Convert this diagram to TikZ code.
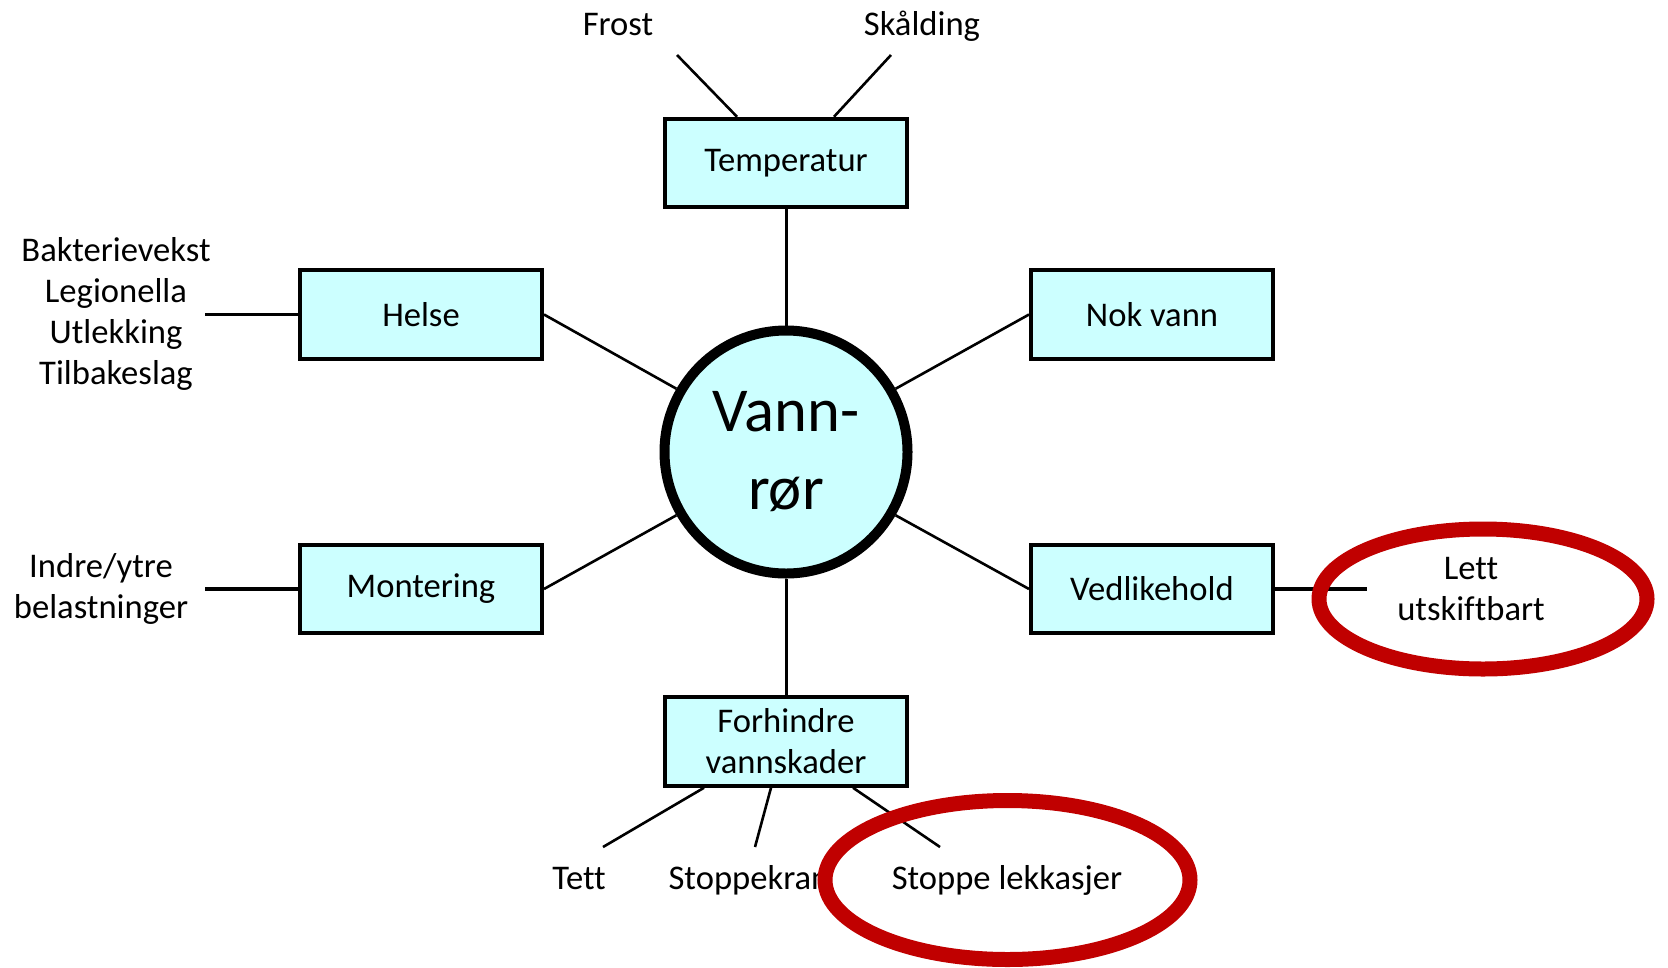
\documentclass[tikz,border=0pt]{standalone}
\usepackage{fontspec}
\setmainfont[Ligatures=NoCommon]{Carlito}
\usetikzlibrary{calc}
\definecolor{boxfill}{HTML}{CCFFFF}
\definecolor{ringred}{HTML}{C00000}
\begin{document}
\begin{tikzpicture}[x=1pt,y=-1pt,
  box/.style={draw=black,line width=4pt,fill=boxfill,minimum width=242pt,minimum height=88.5pt,inner sep=0pt,align=center,font=\fontsize{34.6}{41}\selectfont},
  lbl/.style={inner sep=0pt,align=center,font=\fontsize{34.6}{41}\selectfont},
  thinline/.style={line width=2.6pt},
  thickline/.style={line width=3.6pt},
  ring/.style={draw=ringred,line width=15pt}]
\useasboundingbox[fill=white] (0,0) rectangle (1668,967);

% boxes
\node[box] (temp) at (786,163) {\raisebox{-2pt}{Temperatur}};
\node[box] (helse) at (421,314.5) {Helse};
\node[box] (nok) at (1152,314.5) {Nok vann};
\node[box] (mont) at (421,589) {Montering};
\node[box] (ved) at (1152,589) {Vedlikehold};
\node[box] (forh) at (786,741.5) {Forhindre\\vannskader};
\node[circle,draw=black,line width=10pt,fill=boxfill,minimum size=243pt,inner sep=0pt,align=center,font=\fontsize{62.5}{78}\selectfont] (c) at (786,452) {Vann-\\rør};

% labels
\node[lbl,anchor=base] (frost) at (618,35) {Frost};
\node[lbl,anchor=base] (skald) at (922,35) {Skålding};
\node[lbl] (helsel) at (116,314) {Bakterievekst\\Legionella\\Utlekking\\Tilbakeslag};
\node[lbl] (montl) at (101,589) {Indre/ytre\\belastninger};
\node[lbl] (lett) at (1471,589) {Lett\\utskiftbart};
\node[lbl,anchor=base] (tett) at (579,889) {Tett};
\node[lbl,anchor=base] (stopk) at (749,889) {Stoppekran};
\node[lbl,anchor=base] (stopl) at (1007,889) {Stoppe lekkasjer};

% free ends
\coordinate (fe) at (677,55);
\coordinate (se) at (891,55);
\coordinate (hl) at (205,314.5);
\coordinate (ml) at (205,589);
\coordinate (vr) at (1367,589);
\coordinate (te) at (603,847);
\coordinate (ke) at (755,847);
\coordinate (le) at (940,847);

% connectors
\draw[line width=3pt] (temp.south) -- (c.north);
\draw[line width=3pt] (c.south) -- (forh.north);
\draw[thinline] (helse.east) -- (c.150);
\draw[thinline] (nok.west) -- (c.30);
\draw[thinline] (mont.east) -- (c.210);
\draw[thinline] (ved.west) -- (c.330);
\draw[thinline] (fe) -- ([xshift=74pt]temp.north west);
\draw[thinline] (se) -- ([xshift=-75pt]temp.north east);
\draw[thickline] (hl) -- (helse.west);
\draw[thickline] (ml) -- (mont.west);
\draw[thickline] (ved.east) -- (vr);
\draw[thinline] ([xshift=41pt]forh.south west) -- (te);
\draw[thinline] ([xshift=108pt]forh.south west) -- (ke);
\draw[thinline] ([xshift=190pt]forh.south west) -- (le);

% red rings
\draw[ring] (1483,599) ellipse [x radius=164pt, y radius=70pt];
\draw[ring] (1007.5,880) ellipse [x radius=182.5pt, y radius=79.5pt];
\end{tikzpicture}
\end{document}
